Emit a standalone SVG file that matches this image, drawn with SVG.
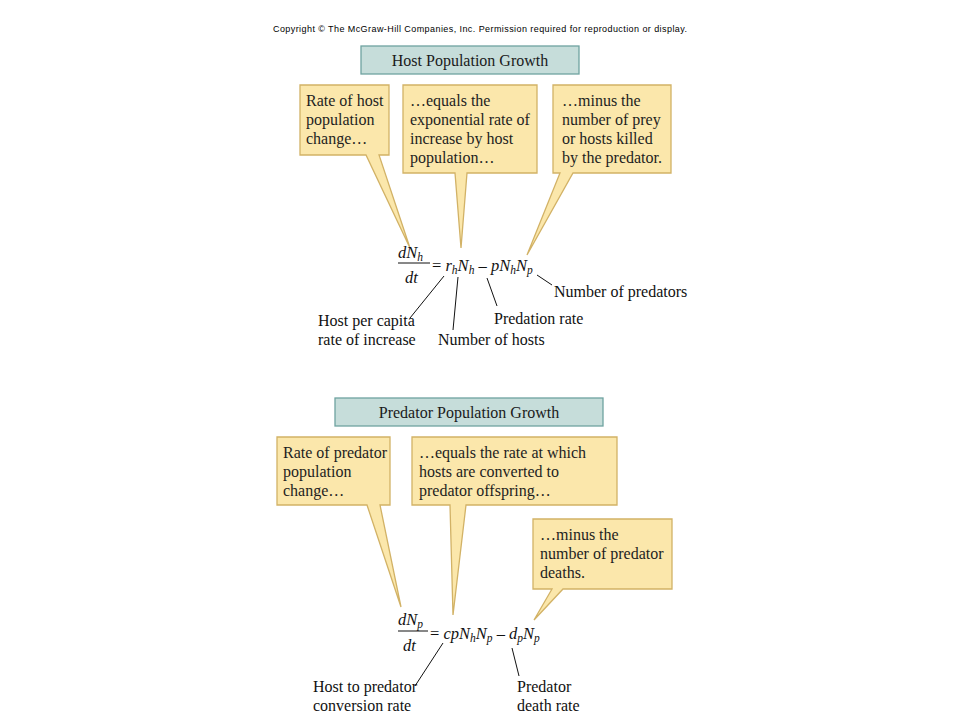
<svg xmlns="http://www.w3.org/2000/svg" width="960" height="720" viewBox="0 0 960 720">
<style>
.bg{fill:#ffffff}
.copy{font-family:"Liberation Sans",Arial,sans-serif;font-size:9px;fill:#000}
.title{fill:#c6ddda;stroke:#6fa3a0;stroke-width:1.3}
.ttxt{font-family:"Liberation Serif","Times New Roman",serif;font-size:16px;fill:#1a1a1a;text-anchor:middle}
.call{fill:#fbe7ab;stroke:#d2b266;stroke-width:1.3;stroke-linejoin:miter}
.ctxt{font-family:"Liberation Serif","Times New Roman",serif;font-size:16px;fill:#1e1e1e}
.lbl{font-family:"Liberation Serif","Times New Roman",serif;font-size:16px;fill:#111}
.eq{font-family:"Liberation Serif","Times New Roman",serif;font-size:16.5px;fill:#111}
.it{font-style:italic}
.sub{font-style:italic;font-size:11.5px}
.ln{stroke:#111;stroke-width:1;fill:none}
.bar{stroke:#111;stroke-width:1}
</style>
<rect class="bg" x="0" y="0" width="960" height="720"/>
<text class="copy" x="273" y="32" textLength="414">Copyright © The McGraw-Hill Companies, Inc. Permission required for reproduction or display.</text>

<g id="host-title">
<rect class="title" x="361" y="46" width="218" height="28"/>
<text class="ttxt" x="470" y="66">Host Population Growth</text>
</g>

<g id="host-callout-1">
<path class="call" d="M300,85 H389 V155 H379 L410,248 L366,155 H300 Z"/>
<text class="ctxt" x="306" y="106">Rate of host</text>
<text class="ctxt" x="306" y="125">population</text>
<text class="ctxt" x="306" y="144">change…</text>
</g>
<g id="host-callout-2">
<path class="call" d="M403,85 H537 V173 H467 L461,248 L455,173 H403 Z"/>
<text class="ctxt" x="410" y="106">…equals the</text>
<text class="ctxt" x="410" y="125">exponential rate of</text>
<text class="ctxt" x="410" y="144">increase by host</text>
<text class="ctxt" x="410" y="163">population…</text>
</g>
<g id="host-callout-3">
<path class="call" d="M553,85 H671 V173 H573 L527,255 L560,173 H553 Z"/>
<text class="ctxt" x="562" y="106">…minus the</text>
<text class="ctxt" x="562" y="125">number of prey</text>
<text class="ctxt" x="562" y="144">or hosts killed</text>
<text class="ctxt" x="562" y="163">by the predator.</text>
</g>

<g id="host-equation">
<text class="eq" x="398" y="258"><tspan class="it">dN</tspan><tspan class="sub" dy="3">h</tspan></text>
<line class="bar" x1="398" y1="263" x2="430" y2="263"/>
<text class="eq it" x="405" y="283">dt</text>
<text class="eq" x="432" y="271">= <tspan class="it">r</tspan><tspan class="sub" dy="3">h</tspan><tspan class="it" dy="-3">N</tspan><tspan class="sub" dy="3">h</tspan><tspan dy="-3"> – </tspan><tspan class="it">pN</tspan><tspan class="sub" dy="3">h</tspan><tspan class="it" dy="-3">N</tspan><tspan class="sub" dy="3">p</tspan></text>
</g>

<g id="host-labels">
<text class="lbl" x="554" y="297">Number of predators</text>
<text class="lbl" x="494" y="324">Predation rate</text>
<text class="lbl" x="318" y="326">Host per capita</text>
<text class="lbl" x="318" y="345">rate of increase</text>
<text class="lbl" x="438" y="345">Number of hosts</text>
</g>

<g id="predator-title">
<rect class="title" x="335" y="398" width="268" height="28"/>
<text class="ttxt" x="469" y="418">Predator Population Growth</text>
</g>

<g id="pred-callout-1">
<path class="call" d="M277,437 H390 V505 H380 L401,607 L367,505 H277 Z"/>
<text class="ctxt" x="283" y="458">Rate of predator</text>
<text class="ctxt" x="283" y="477">population</text>
<text class="ctxt" x="283" y="496">change…</text>
</g>
<g id="pred-callout-2">
<path class="call" d="M412,437 H617 V505 H466 L453,615 L450,505 H412 Z"/>
<text class="ctxt" x="419" y="458">…equals the rate at which</text>
<text class="ctxt" x="419" y="477">hosts are converted to</text>
<text class="ctxt" x="419" y="496">predator offspring…</text>
</g>
<g id="pred-callout-3">
<path class="call" d="M533,519 H672 V589 H563 L534,620 L552,589 H533 Z"/>
<text class="ctxt" x="540" y="540">…minus the</text>
<text class="ctxt" x="540" y="559">number of predator</text>
<text class="ctxt" x="540" y="578">deaths.</text>
</g>

<g id="predator-equation">
<text class="eq" x="398" y="625"><tspan class="it">dN</tspan><tspan class="sub" dy="3">p</tspan></text>
<line class="bar" x1="398" y1="631" x2="428" y2="631"/>
<text class="eq it" x="403" y="651">dt</text>
<text class="eq" x="430" y="639">= <tspan class="it">cpN</tspan><tspan class="sub" dy="3">h</tspan><tspan class="it" dy="-3">N</tspan><tspan class="sub" dy="3">p</tspan><tspan dy="-3"> – </tspan><tspan class="it">d</tspan><tspan class="sub" dy="3">p</tspan><tspan class="it" dy="-3">N</tspan><tspan class="sub" dy="3">p</tspan></text>
</g>

<g id="predator-labels">
<text class="lbl" x="313" y="692">Host to predator</text>
<text class="lbl" x="313" y="711">conversion rate</text>
<text class="lbl" x="517" y="692">Predator</text>
<text class="lbl" x="517" y="711">death rate</text>
</g>

<g id="connectors">
<line class="ln" x1="444" y1="276" x2="410" y2="318"/>
<line class="ln" x1="458" y1="277" x2="453" y2="330"/>
<line class="ln" x1="487" y1="278" x2="497" y2="306"/>
<line class="ln" x1="537" y1="275" x2="552" y2="285"/>
<line class="ln" x1="443" y1="643" x2="415" y2="686"/>
<line class="ln" x1="512" y1="648" x2="519" y2="676"/>
</g>
</svg>
